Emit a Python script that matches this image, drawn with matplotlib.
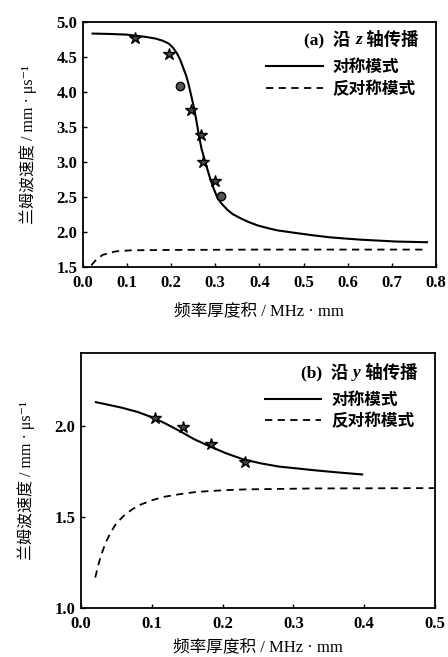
import matplotlib
matplotlib.use('Agg')
import matplotlib.pyplot as plt
from matplotlib.lines import Line2D
from matplotlib.transforms import offset_copy

plt.rcParams['font.family'] = ['Liberation Serif', 'DejaVu Serif', 'Noto Sans CJK SC']
plt.rcParams['font.weight'] = 'bold'

# (a) along z
za_x = [0.022, 0.06, 0.10, 0.119, 0.14, 0.164, 0.18, 0.194, 0.204, 0.213, 0.221, 0.228,
        0.234, 0.239, 0.246, 0.25, 0.254, 0.261, 0.265, 0.269, 0.275, 0.28, 0.285,
        0.291, 0.298, 0.306, 0.316, 0.328, 0.34, 0.358, 0.375, 0.396, 0.42, 0.44,
        0.485, 0.52, 0.56, 0.6, 0.634, 0.68, 0.709, 0.78]
za_sym = [4.83, 4.825, 4.815, 4.80, 4.785, 4.76, 4.73, 4.69, 4.63, 4.55, 4.45, 4.33,
          4.23, 4.12, 3.93, 3.82, 3.70, 3.45, 3.31, 3.18, 3.05, 2.94, 2.83,
          2.71, 2.59, 2.47, 2.39, 2.31, 2.25, 2.19, 2.14, 2.09, 2.05, 2.02,
          1.98, 1.95, 1.92, 1.90, 1.885, 1.87, 1.86, 1.85]
za_ax = [0.019, 0.03, 0.045, 0.075, 0.11, 0.2, 0.4, 0.6, 0.78]
za_anti = [1.52, 1.60, 1.67, 1.72, 1.735, 1.74, 1.745, 1.745, 1.745]
za_star_x = [0.119, 0.196, 0.246, 0.268, 0.272, 0.299]
za_star_y = [4.77, 4.54, 3.74, 3.38, 2.99, 2.73]
za_circ_x = [0.22, 0.313]
za_circ_y = [4.08, 2.51]

# (b) along y
yb_x = [0.021, 0.056, 0.08, 0.103, 0.12, 0.14, 0.16, 0.182, 0.205, 0.229, 0.255, 0.28,
        0.305, 0.327, 0.36, 0.397]
yb_sym = [2.129, 2.10, 2.075, 2.042, 2.01, 1.969, 1.925, 1.886, 1.848, 1.815, 1.792, 1.775,
          1.765, 1.756, 1.744, 1.732]
yb_ax = [0.02, 0.024, 0.028, 0.035, 0.042, 0.05, 0.061, 0.072, 0.084, 0.1, 0.117, 0.14,
         0.163, 0.2, 0.233, 0.327, 0.5]
yb_anti = [1.166, 1.23, 1.286, 1.36, 1.415, 1.465, 1.507, 1.54, 1.566, 1.59, 1.609, 1.624,
           1.636, 1.645, 1.65, 1.655, 1.657]
yb_star_x = [0.104, 0.144, 0.184, 0.232]
yb_star_y = [2.04, 1.99, 1.90, 1.80]

xlabel = '频率厚度积 / MHz · mm'
ylabel = '兰姆波速度 / mm · μs⁻¹'
names = ['对称模式', '反对称模式']

fig = plt.figure(figsize=(4.48, 6.57), dpi=100)
ax1 = fig.add_axes([0.185, 0.594, 0.788, 0.373])
ax2 = fig.add_axes([0.181, 0.075, 0.790, 0.388])

def style(ax, xmax, ymin, ymax, xticks, yticks, xpad):
    ax.set_xlim(0, xmax)
    ax.set_ylim(ymin, ymax)
    ax.set_xticks(xticks)
    ax.set_yticks(yticks)
    ax.set_xticklabels(['%.1f' % t for t in xticks])
    ax.set_yticklabels(['%.1f' % t for t in yticks])
    ax.tick_params(direction='in', length=3, width=1, labelsize=12)
    ax.tick_params(axis='x', pad=6)
    ax.tick_params(axis='y', pad=4)
    for s in ax.spines.values():
        s.set_linewidth(1.3)
    ax.set_xlabel(xlabel, fontsize=12, labelpad=xpad)
    ax.set_ylabel(ylabel, fontsize=11.5, labelpad=14)

ax1.plot(za_x, za_sym, 'k-', lw=1.5)
ax1.plot(za_ax, za_anti, 'k--', lw=1.3, dashes=(4, 3))
ax1.plot(za_star_x, za_star_y, '*', color='#444444', mec='k', ms=9)
ax1.plot(za_circ_x, za_circ_y, 'o', color='#555555', mec='k', ms=6)
style(ax1, 0.8, 1.5, 5.0, [0.0, 0.1, 0.2, 0.3, 0.4, 0.5, 0.6, 0.7, 0.8],
      [1.5, 2.0, 2.5, 3.0, 3.5, 4.0, 4.5, 5.0], 9)

ax2.plot(yb_x, yb_sym, 'k-', lw=1.5)
ax2.plot(yb_ax, yb_anti, 'k--', lw=1.3, dashes=(4, 3))
ax2.plot(yb_star_x, yb_star_y, '*', color='#444444', mec='k', ms=9)
style(ax2, 0.5, 1.0, 2.4, [0.0, 0.1, 0.2, 0.3, 0.4, 0.5], [1.0, 1.5, 2.0], 5)

handles = [Line2D([], [], color='k', lw=1.5),
           Line2D([], [], color='k', lw=1.3, ls='--', dashes=(4, 3))]

renderer = fig.canvas.get_renderer()
for ax, tag, axis_name, ty in [(ax1, '(a)', 'z', 0.925), (ax2, '(b)', 'y', 0.92)]:
    # title built from pieces so the axis letter can be italic
    pieces = [(' 轴传播', 'normal'), (axis_name, 'italic'), (tag + '  沿 ', 'normal')]
    dx = 0
    for s, st in pieces:
        tr = offset_copy(ax.transAxes, fig=fig, x=-dx, y=0, units='dots')
        t = ax.text(0.95, ty, s, transform=tr, ha='right', va='center',
                    fontsize=12.5, style=st)
        dx += t.get_window_extent(renderer).width
    ax.legend(handles, names, loc='upper left', bbox_to_anchor=(0.5, 0.87),
              frameon=False, fontsize=12, handlelength=3.4, handletextpad=0.6,
              labelspacing=0.3, borderaxespad=0)

fig.savefig('out.png', dpi=100)
